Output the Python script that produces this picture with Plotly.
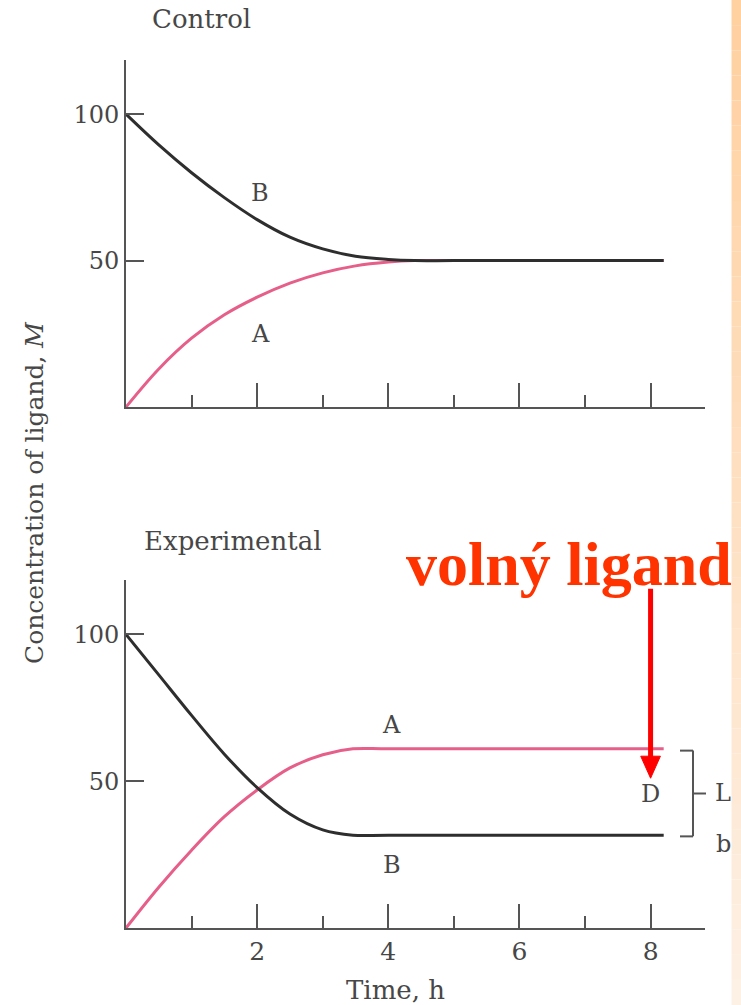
import plotly.graph_objects as go

# ---- data -------------------------------------------------------------
ctrl_time = [0, 0.5, 1, 1.5, 2, 2.5, 3, 3.5, 4, 4.4, 5, 8.2]
ctrl_B = [100, 89.5, 80, 71.5, 64, 58, 54, 51.5, 50.4, 50, 50, 50]
ctrl_A = [0, 13, 23.5, 31.5, 37.5, 42.3, 45.8, 48.2, 49.5, 50, 50, 50]

exp_time = [0, 0.5, 1, 1.5, 2, 2.5, 3, 3.46, 4, 8.2]
exp_B = [100, 86.2, 72.4, 59.2, 47.8, 38.8, 33.4, 31.6, 31.6, 31.6]
exp_A = [0, 13.9, 26.5, 37.9, 47, 54.5, 59, 61, 61, 61]

x_major = [2, 4, 6, 8]
x_labels = ["2", "4", "6", "8"]
y_ticks = [50, 100]
y_labels = ["50", "100"]

# ---- styling ----------------------------------------------------------
W, H = 741, 1005
INK = "#474747"
AXIS = "#555555"
DARK = "#2e2e2e"
PINK = "#e65f8a"
RED = "#ff0000"
SERIF = "DejaVu Serif"

X_MAX = 8.83
Y_MAX = 118.5

def px_x(p):
    return p / W

def px_y(p):
    return 1 - p / H

fig = go.Figure()

def curve(x, y, color, xa, ya):
    fig.add_trace(go.Scatter(
        x=x, y=y, mode="lines", xaxis=xa, yaxis=ya,
        line=dict(color=color, width=3, shape="spline", smoothing=1.0),
        hoverinfo="skip", showlegend=False))

curve(ctrl_time, ctrl_A, PINK, "x", "y")
curve(ctrl_time, ctrl_B, DARK, "x", "y")
curve(exp_time, exp_A, PINK, "x2", "y2")
curve(exp_time, exp_B, DARK, "x2", "y2")

def xaxis(domain_anchor, labels):
    return dict(
        domain=[px_x(126), px_x(705)], anchor=domain_anchor,
        range=[0, X_MAX], showgrid=False, zeroline=False,
        showline=True, linecolor=AXIS, linewidth=2,
        tickmode="array", tickvals=x_major, ticktext=x_labels,
        ticks="inside", ticklen=24, tickwidth=2, tickcolor=AXIS,
        showticklabels=labels,
        tickfont=dict(family=SERIF, size=25, color=INK),
        minor=dict(dtick=1, tick0=0, ticks="inside", ticklen=12,
                   tickwidth=2, tickcolor=AXIS),
        fixedrange=True)

def yaxis(domain, domain_anchor):
    return dict(
        domain=domain, anchor=domain_anchor,
        range=[0, Y_MAX], showgrid=False, zeroline=False,
        showline=True, linecolor=AXIS, linewidth=2,
        tickmode="array", tickvals=y_ticks, ticktext=y_labels,
        ticks="inside", ticklen=18, tickwidth=2, tickcolor=AXIS,
        tickfont=dict(family=SERIF, size=24, color=INK),
        fixedrange=True)

fig.update_layout(
    width=W, height=H,
    margin=dict(l=0, r=0, t=0, b=0),
    paper_bgcolor="white", plot_bgcolor="white",
    xaxis=xaxis("y", False),
    yaxis=yaxis([px_y(407), px_y(60)], "x"),
    xaxis2=xaxis("y2", True),
    yaxis2=yaxis([px_y(928), px_y(580)], "x2"),
)

ann = []

def label(text, x, y, xref, yref, size=24, color=INK, **kw):
    ann.append(dict(text=text, x=x, y=y, xref=xref, yref=yref,
                    xanchor="center", yanchor="middle", showarrow=False,
                    font=dict(family=SERIF, size=size, color=color), **kw))

# panel titles and axis titles
label("Control", px_x(201), px_y(19), "paper", "paper", size=26)
label("Experimental", px_x(232), px_y(541), "paper", "paper", size=26)
label("Time, h", px_x(395), px_y(990), "paper", "paper", size=26)
label("Concentration of ligand, <i>M</i>", px_x(35), px_y(493),
      "paper", "paper", size=25, textangle=-90)

# curve labels
label("B", 2.05, 73, "x", "y")
label("A", 2.05, 25, "x", "y")
label("A", 4.05, 69, "x2", "y2")
label("B", 4.05, 21.5, "x2", "y2")
label("D", 8.0, 45.5, "x2", "y2")
label("L", px_x(723), 46, "paper", "y2")
label("b", px_x(723), 28.5, "paper", "y2")

# red caption
ann.append(dict(text="<b>volný ligand</b>", x=px_x(569), y=px_y(564),
                xref="paper", yref="paper", xanchor="center", yanchor="middle",
                showarrow=False,
                font=dict(family="Liberation Serif", size=62, color="#ff3300")))

fig.update_layout(annotations=ann)

shapes = []

# peach strip along the right edge, fading downward
top_rgb = (255, 208, 160)
bot_rgb = (253, 240, 228)
n = 40
for i in range(n):
    t = i / (n - 1)
    r, g, b = [round(a + (c - a) * t) for a, c in zip(top_rgb, bot_rgb)]
    shapes.append(dict(type="rect", xref="paper", yref="paper",
                       x0=px_x(731.5), x1=1.0,
                       y0=1 - (i + 1) / n, y1=1 - i / n,
                       line=dict(width=0), fillcolor=f"rgb({r},{g},{b})",
                       layer="below"))

# red arrow pointing down to the free-ligand level
shapes.append(dict(type="line", xref="x2", yref="y2",
                   x0=8.0, x1=8.0, y0=115.5, y1=57,
                   line=dict(color=RED, width=5)))
shapes.append(dict(type="path", xref="x2", yref="y2",
                   path="M 7.85 58.5 L 8.15 58.5 L 8.0 51 Z",
                   fillcolor=RED, line=dict(color=RED, width=1)))

# bracket spanning the two plateaus
bx0, bx1, bx2 = px_x(680), px_x(693), px_x(706)
top_val, bot_val = exp_A[-1] - 0.6, exp_B[-1] - 0.4
mid_val = (top_val + bot_val) / 2
bracket = dict(color=AXIS, width=2)
shapes += [
    dict(type="line", xref="paper", yref="y2", x0=bx0, x1=bx1,
         y0=top_val, y1=top_val, line=bracket),
    dict(type="line", xref="paper", yref="y2", x0=bx1, x1=bx1,
         y0=top_val, y1=bot_val, line=bracket),
    dict(type="line", xref="paper", yref="y2", x0=bx0, x1=bx1,
         y0=bot_val, y1=bot_val, line=bracket),
    dict(type="line", xref="paper", yref="y2", x0=bx1, x1=bx2,
         y0=mid_val, y1=mid_val, line=bracket),
]

fig.update_layout(shapes=shapes)

fig.write_html("out.html", config=dict(displayModeBar=False))
